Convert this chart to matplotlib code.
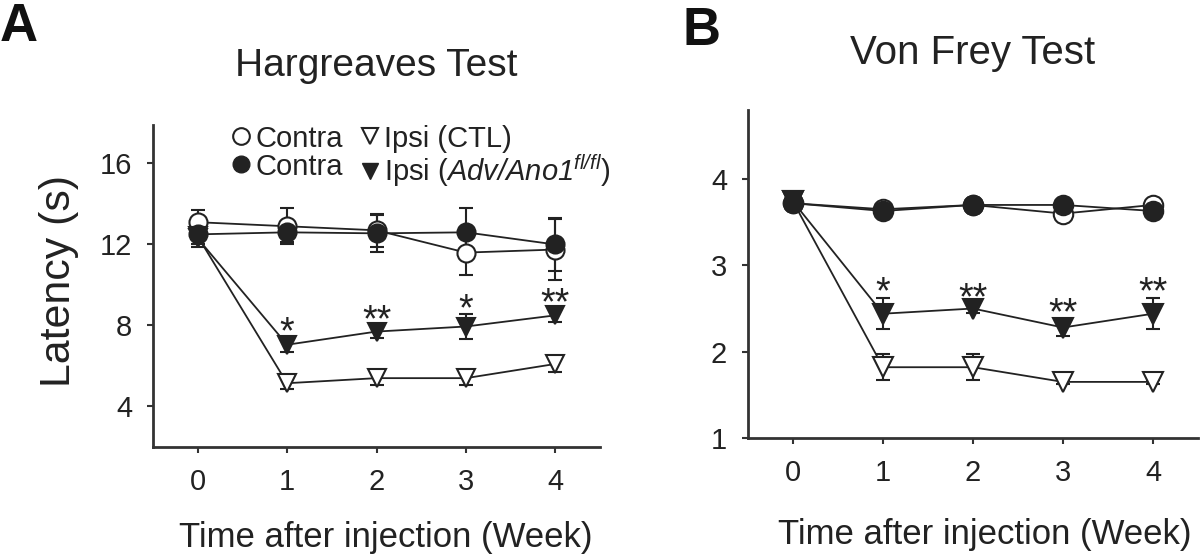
import numpy as np
import matplotlib
matplotlib.use('Agg')
import matplotlib.pyplot as plt
from matplotlib.lines import Line2D

plt.rcParams['font.family'] = ['Liberation Sans', 'DejaVu Sans']
plt.rcParams['mathtext.fontset'] = 'custom'
plt.rcParams['mathtext.rm'] = 'Liberation Sans:italic'
plt.rcParams['mathtext.it'] = 'Liberation Sans:italic'

weeks = [0, 1, 2, 3, 4]

# Hargreaves test, latency (s)
hg_contra_ctl = [13.1, 12.9, 12.7, 11.6, 11.75]
hg_contra_ctl_err = [0.6, 0.9, 0.8, 1.1, 1.5]
hg_contra_adv = [12.5, 12.6, 12.55, 12.6, 12.0]
hg_contra_adv_err = [0.5, 0.5, 0.9, 1.2, 1.3]
hg_ipsi_ctl = [12.4, 5.15, 5.4, 5.4, 6.1]
hg_ipsi_ctl_err = [0.4, 0.3, 0.35, 0.35, 0.4]
hg_ipsi_adv = [12.3, 7.05, 7.7, 7.95, 8.5]
hg_ipsi_adv_err = [0.4, 0.35, 0.3, 0.6, 0.35]
hg_stars = ['', '*', '**', '*', '**']

# Von Frey test
vf_contra_ctl = [3.72, 3.65, 3.70, 3.60, 3.70]
vf_contra_ctl_err = [0.05, 0.04, 0.03, 0.04, 0.04]
vf_contra_adv = [3.72, 3.63, 3.70, 3.70, 3.63]
vf_contra_adv_err = [0.05, 0.04, 0.03, 0.05, 0.05]
vf_ipsi_ctl = [3.74, 1.82, 1.82, 1.65, 1.65]
vf_ipsi_ctl_err = [0.05, 0.15, 0.15, 0.02, 0.02]
vf_ipsi_adv = [3.74, 2.44, 2.50, 2.28, 2.44]
vf_ipsi_adv_err = [0.05, 0.18, 0.05, 0.10, 0.18]
vf_stars = ['', '*', '**', '**', '**']

ink = '#222222'
W, H = 1200, 559
fig = plt.figure(figsize=(12, 5.59), dpi=100)
axA = fig.add_axes([153 / W, (H - 447) / H, 447 / W, 322 / H])
axB = fig.add_axes([748 / W, (H - 438) / H, 450 / W, 328 / H])


def draw(ax, series, stars, ms):
    for mean, err, mk, fill in series:
        ax.errorbar(weeks, mean, yerr=err, fmt='-', marker=mk, color=ink,
                    mfc=ink if fill else 'white', mec=ink, ms=ms, mew=1.5,
                    lw=1.3, elinewidth=1.5, capsize=5, capthick=1.5)
    adv, adv_err = series[3][0], series[3][1]
    for w, m, e, s in zip(weeks, adv, adv_err, stars):
        if s:
            ax.annotate(s, (w, m + e), xytext=(0, -4), textcoords='offset points',
                        ha='center', va='baseline', fontsize=27, color=ink)
    for side in ['top', 'right']:
        ax.spines[side].set_visible(False)
    for side in ['left', 'bottom']:
        ax.spines[side].set_linewidth(2)
        ax.spines[side].set_color('#333333')
    ax.tick_params(direction='out', length=4, width=1.5, colors='#333333',
                   labelsize=21, labelcolor=ink, pad=11)
    ax.set_xlim(-0.5, 4.5)
    ax.set_xticks(weeks)
    ax.set_xlabel('Time after injection (Week)', fontsize=25, color=ink)


draw(axA, [(hg_contra_ctl, hg_contra_ctl_err, 'o', False),
           (hg_contra_adv, hg_contra_adv_err, 'o', True),
           (hg_ipsi_ctl, hg_ipsi_ctl_err, 'v', False),
           (hg_ipsi_adv, hg_ipsi_adv_err, 'v', True)], hg_stars, 13)
axA.set_ylim(2, 17.9)
axA.set_yticks([4, 8, 12, 16])
ylab = axA.set_ylabel('Latency (s)', fontsize=30, color=ink, va='center')
axA.yaxis.set_label_coords(-0.21, 0.514)
axA.xaxis.set_label_coords(0.52, -0.23)
axA.set_title('Hargreaves Test', fontsize=28, color=ink, pad=35)

draw(axB, [(vf_contra_ctl, vf_contra_ctl_err, 'o', False),
           (vf_contra_adv, vf_contra_adv_err, 'o', True),
           (vf_ipsi_ctl, vf_ipsi_ctl_err, 'v', False),
           (vf_ipsi_adv, vf_ipsi_adv_err, 'v', True)], vf_stars, 14)
axB.set_ylim(1, 4.8)
axB.set_yticks([1, 2, 3, 4])
axB.xaxis.set_label_coords(0.527, -0.245)
axB.set_title('Von Frey Test', fontsize=29, color=ink, pad=33)

handles = [Line2D([], [], ls='none', marker='o', ms=12, mfc='white', mec=ink, mew=1.5),
           Line2D([], [], ls='none', marker='o', ms=12, mfc=ink, mec=ink),
           Line2D([], [], ls='none', marker='v', ms=12, mfc='white', mec=ink, mew=1.5),
           Line2D([], [], ls='none', marker='v', ms=12, mfc=ink, mec=ink)]
labels = ['Contra', 'Contra', 'Ipsi (CTL)', r'Ipsi ($Adv/Ano1^{fl/fl}$)']
fig.legend(handles, labels, ncol=2, frameon=False, loc='upper left',
           bbox_to_anchor=(218 / W, 1 - 110 / H), fontsize=21, labelcolor=ink,
           borderpad=0, handlelength=0.6, handletextpad=0.2, columnspacing=0.6,
           labelspacing=0.0)

fig.text(0, 1 - 2 / H, 'A', fontsize=38, fontweight='bold', color='#111111', va='top')
fig.text(683 / W, 1 - 6 / H, 'B', fontsize=38, fontweight='bold', color='#111111', va='top')

# size the y label so it spans about 212 px like the original
fig.canvas.draw()
h = ylab.get_window_extent().height
ylab.set_fontsize(30 * 212 / h)

fig.savefig('out.png', dpi=100)
